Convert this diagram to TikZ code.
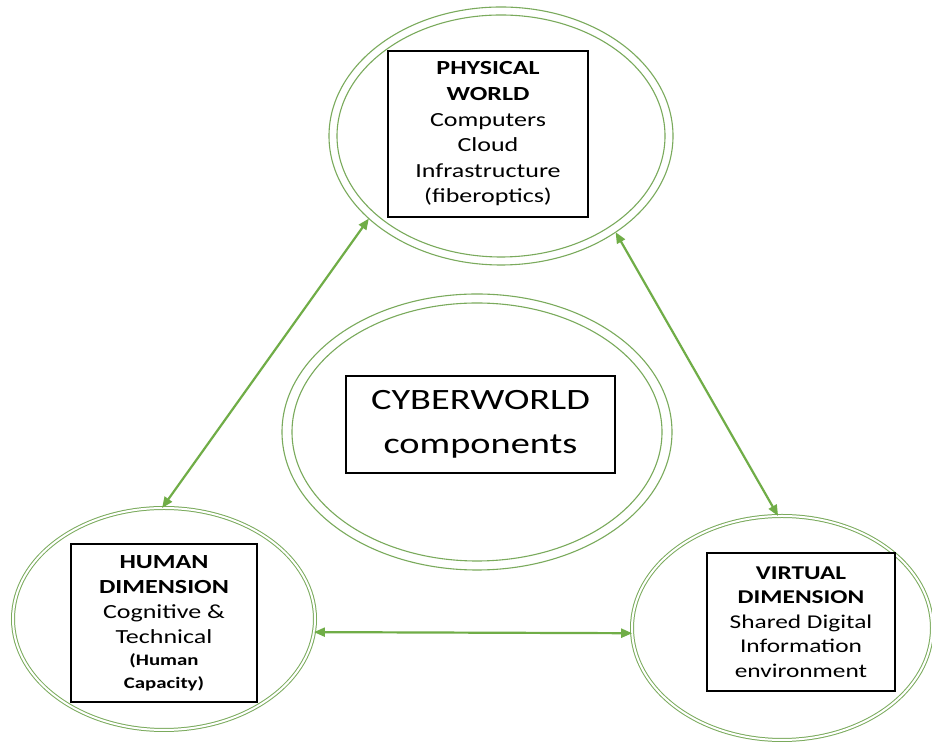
\documentclass[tikz,border=0pt]{standalone}
\usepackage{fontspec}
\setmainfont[FakeStretch=1.3]{Carlito}
\usetikzlibrary{shapes.geometric,arrows.meta}
\definecolor{cgreen}{RGB}{112,173,71}
\definecolor{egreen}{RGB}{122,170,92}
\begin{document}
\begin{tikzpicture}[x=1pt,y=1pt,
  ell/.style={ellipse, draw=egreen, line width=1.1pt, inner sep=0pt, outer sep=0pt},
  dbl/.style={ellipse, draw=egreen, double=white, double distance=2pt, line width=1pt, inner sep=0pt, outer sep=0pt},
  tbox/.style={draw=black, line width=1.2pt, align=center, inner sep=0pt, fill=white},
  conn/.style={cgreen, line width=2.2pt, {Triangle[length=11pt,width=9pt]}-{Triangle[length=11pt,width=9pt]}}
]
\useasboundingbox (0,0) rectangle (932,743);
\fill[white] (0,0) rectangle (932,743);

% ellipses
\node[ell, minimum width=344pt, minimum height=258pt] (top) at (501,607) {};
\node[ell, minimum width=328pt, minimum height=242pt] (topin) at (501,607) {};
\node[ell, minimum width=390pt, minimum height=276pt] (mid) at (477,311) {};
\node[ell, minimum width=370pt, minimum height=258pt] (midin) at (477,311) {};
\node[dbl, minimum width=302pt, minimum height=222pt] (left) at (164,124) {};
\node[dbl, minimum width=300pt, minimum height=224pt] (right) at (782,115) {};

% boxes
\node[tbox, minimum width=200pt, minimum height=166pt, font=\fontsize{20}{25.6}\selectfont] (tbx) at (488,609)
  {\textbf{PHYSICAL}\\\textbf{WORLD}\\Computers\\Cloud\\Infrastructure\\(fiberoptics)};
\node[tbox, minimum width=269pt, minimum height=97pt, font=\fontsize{29.5}{44}\selectfont] (mbx) at (480.5,318.5)
  {CYBERWORLD\\components};
\node[tbox, minimum width=186pt, minimum height=158pt, font=\fontsize{20}{25}\selectfont] (lbx) at (164,120)
  {\textbf{HUMAN}\\\textbf{DIMENSION}\\Cognitive \&\\Technical\\[-3pt]{\fontsize{16}{21}\selectfont\textbf{(Human}}\\[-2pt]{\fontsize{16}{21}\selectfont\textbf{Capacity)}}};
\node[tbox, minimum width=188pt, minimum height=138pt, font=\fontsize{19.5}{24.5}\selectfont] (rbx) at (801,121)
  {\textbf{VIRTUAL}\\\textbf{DIMENSION}\\Shared Digital\\Information\\environment};

% connectors
\draw[conn] (top.212) -- (left.91);
\draw[conn] (top.320) -- (right.92);
\draw[conn] (left.355.5) -- (right.182);
\end{tikzpicture}
\end{document}
